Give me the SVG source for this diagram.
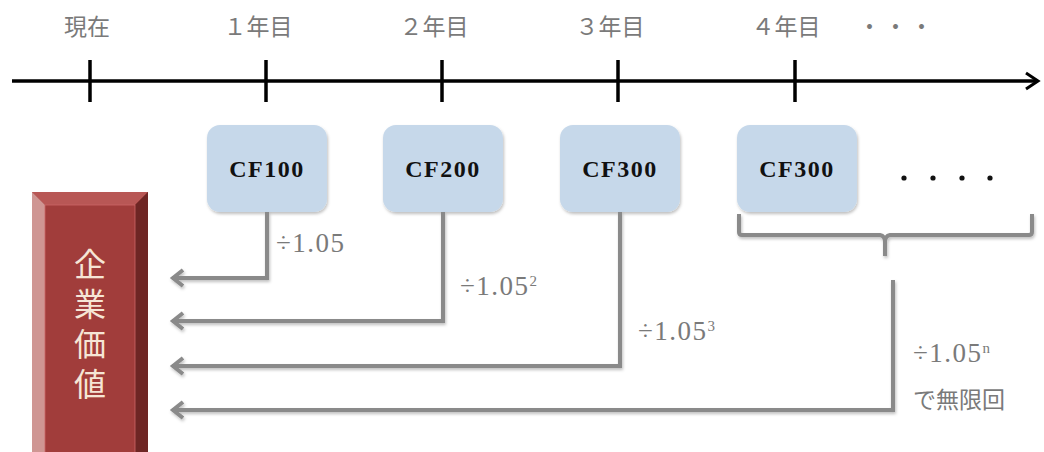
<svg xmlns="http://www.w3.org/2000/svg" width="1044" height="452" viewBox="0 0 1044 452">
<style>
.lbl{font-family:"Liberation Serif","Noto Sans CJK JP",serif;font-size:23px;fill:#7a7a7a}
.num{font-family:"Liberation Serif","Noto Sans CJK JP",serif;font-size:27px;letter-spacing:1.5px;fill:#7a7a7a}
.sup{font-size:15px;letter-spacing:0}
.cf{font-family:"Liberation Serif","Noto Sans CJK JP",serif;font-size:24px;font-weight:bold;letter-spacing:1.5px;fill:#111;text-anchor:middle}
.box{fill:#c6d8ea;filter:url(#sh)}
.conn{fill:none;stroke:#8a8a8a;stroke-width:4;filter:url(#sh)}
.tick{stroke:#000;stroke-width:3.5}
.kv{font-family:"Noto Sans CJK JP",serif;font-size:32px;fill:#f6e6d6;letter-spacing:8px}
</style>
<defs>
<filter id="sh" x="-20%" y="-20%" width="140%" height="140%">
<feDropShadow dx="1" dy="2" stdDeviation="1.5" flood-color="#000" flood-opacity="0.25"/>
</filter>
<marker id="ah" markerWidth="20" markerHeight="20" refX="0" refY="0" orient="auto" markerUnits="userSpaceOnUse" viewBox="-14 -10 20 20" overflow="visible">
<path d="M-11,-8 L-1,0 L-11,8" fill="none" stroke="#8a8a8a" stroke-width="4"/>
</marker>
</defs>
<g id="axis">
<line x1="12" y1="81" x2="1036" y2="81" stroke="#000" stroke-width="3.5"/>
<path d="M1026,73 L1038,81 L1026,89" fill="none" stroke="#000" stroke-width="3"/>
<line class="tick" x1="90" y1="60" x2="90" y2="102"/>
<line class="tick" x1="266" y1="60" x2="266" y2="102"/>
<line class="tick" x1="442" y1="60" x2="442" y2="102"/>
<line class="tick" x1="618" y1="60" x2="618" y2="102"/>
<line class="tick" x1="795" y1="60" x2="795" y2="102"/>
<text class="lbl" x="87" y="35" text-anchor="middle">現在</text>
<text class="lbl" x="258" y="35" text-anchor="middle">１年目</text>
<text class="lbl" x="434" y="35" text-anchor="middle">２年目</text>
<text class="lbl" x="610" y="35" text-anchor="middle">３年目</text>
<text class="lbl" x="786" y="35" text-anchor="middle">４年目</text>
<text class="lbl" x="897" y="35" text-anchor="middle" letter-spacing="3">・・・</text>
</g>
<g id="cf1"><rect class="box" x="207" y="125" width="120" height="87" rx="13"/><text class="cf" x="267" y="177">CF100</text></g>
<g id="cf2"><rect class="box" x="383" y="125" width="120" height="87" rx="13"/><text class="cf" x="443" y="177">CF200</text></g>
<g id="cf3"><rect class="box" x="560" y="125" width="120" height="87" rx="13"/><text class="cf" x="620" y="177">CF300</text></g>
<g id="cf4"><rect class="box" x="737" y="125" width="120" height="87" rx="13"/><text class="cf" x="797" y="177">CF300</text></g>
<g id="dots" fill="#111">
<circle cx="904" cy="178" r="2.6"/><circle cx="933" cy="178" r="2.6"/><circle cx="962" cy="178" r="2.6"/><circle cx="990" cy="178" r="2.6"/>
</g>
<g id="brace">
<path class="conn" d="M739,214 V232 Q739,235 742,235 H880 Q885,236 885,242 V256 M885,242 Q885,236 890,235 H1029 Q1032,235 1032,232 V214"/>
</g>
<g id="kigyou">
<rect x="32" y="192" width="116" height="270" fill="#a13d3b"/>
<polygon points="32,192 148,192 135,205 45,205" fill="#b85755"/>
<polygon points="32,192 45,205 45,462 32,462" fill="#cf9693"/>
<polygon points="148,192 135,205 135,462 148,462" fill="#6e2624"/>
<rect x="45" y="205" width="90" height="260" fill="#a13d3b" stroke="#c66" stroke-width="0.8"/>
<text class="kv" x="90" y="248" writing-mode="vertical-rl">企業価値</text>
</g>
<g id="connectors">
<path class="conn" d="M267,212 V278 H172" marker-end="url(#ah)"/>
<path class="conn" d="M443,212 V321 H172" marker-end="url(#ah)"/>
<path class="conn" d="M620,212 V366 H172" marker-end="url(#ah)"/>
<path class="conn" d="M893,280 V410 H172" marker-end="url(#ah)"/>
</g>
<g id="labels">
<text class="num" x="276" y="252">÷1.05</text>
<text class="num" x="460" y="295">÷1.05<tspan class="sup" dy="-9">2</tspan></text>
<text class="num" x="638" y="340">÷1.05<tspan class="sup" dy="-9">3</tspan></text>
<text class="num" x="913" y="362">÷1.05<tspan class="sup" dy="-9">n</tspan></text>
<text class="lbl" x="913" y="408" font-size="24">で無限回</text>
</g>
</svg>
